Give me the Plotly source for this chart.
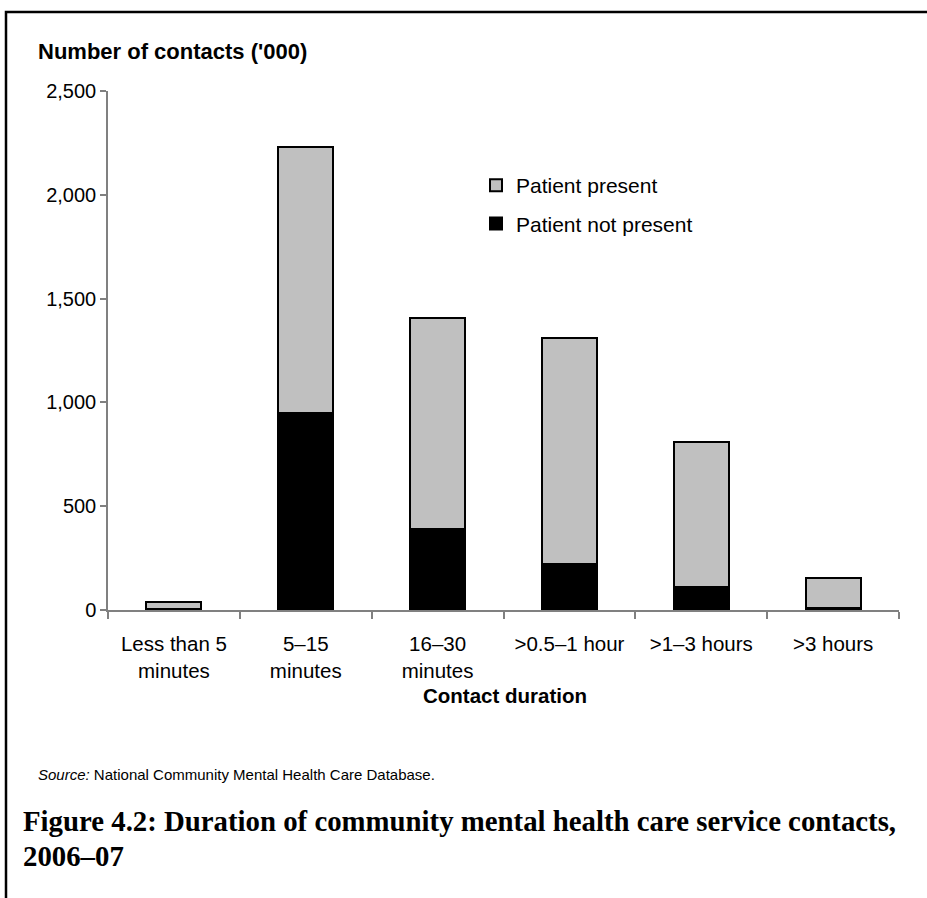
import plotly.graph_objects as go

# Contacts by duration, in thousands
categories = ["Less than 5<br>minutes", "5–15<br>minutes", "16–30<br>minutes",
              ">0.5–1 hour", ">1–3 hours", ">3 hours"]
patient_not_present = [5, 950, 390, 224, 109, 10]
patient_present = [33, 1281, 1017, 1088, 699, 145]
y_ticks = [0, 500, 1000, 1500, 2000, 2500]

W, H = 927, 898
L, R, T, B = 108, 28, 91, 288
plot_w = W - L - R
plot_h = H - T - B


def px(x):
    return (x - L) / plot_w


def py(y):
    return (H - B - y) / plot_h


SANS = "Liberation Sans, Arial, sans-serif"
SERIF = "Liberation Serif, Times New Roman, serif"
line = dict(color="black", width=2)

fig = go.Figure()
fig.add_bar(x=categories, y=patient_not_present, name="Patient not present",
            marker=dict(color="black", line=line), legendgroup="a", legendrank=2)
fig.add_bar(x=categories, y=patient_present, name="Patient present",
            marker=dict(color="#c0c0c0", line=line), legendgroup="b", legendrank=1)

fig.update_layout(
    width=W, height=H,
    margin=dict(l=L, r=R, t=T, b=B),
    barmode="stack", bargap=0.583,
    plot_bgcolor="white", paper_bgcolor="white",
    font=dict(family=SANS, size=21, color="black"),
    showlegend=True,
    legend=dict(x=px(476), y=py(165), xanchor="left", yanchor="top",
                traceorder="grouped", tracegroupgap=8,
                font=dict(size=21), bgcolor="rgba(0,0,0,0)"),
    xaxis=dict(showline=True, linecolor="#808080", linewidth=1.5,
               ticks="outside", tickson="boundaries", ticklen=7,
               tickcolor="#808080", tickwidth=1.5, ticklabelstandoff=15,
               tickfont=dict(size=20.5), showgrid=False),
    yaxis=dict(range=[0, 2500], tickvals=y_ticks, tickformat=",d",
               showline=True, linecolor="#808080", linewidth=1.5,
               ticks="outside", ticklen=6, tickcolor="#808080", tickwidth=1.5,
               tickfont=dict(size=20), showgrid=False, zeroline=False),
)

annotations = [
    dict(text="<b>Number of contacts ('000)</b>", x=px(36), y=py(52),
         xanchor="left", yanchor="middle", font=dict(size=22)),
    dict(text="<b>Contact duration</b>", x=px(505), y=py(695),
         xanchor="center", yanchor="middle", font=dict(size=20.5)),
    dict(text="<i>Source:</i> National Community Mental Health Care Database.",
         x=px(36), y=py(774), xanchor="left", yanchor="middle",
         font=dict(size=15, family=SANS)),
    dict(text="<b>Figure 4.2: Duration of community mental health care service contacts,</b>",
         x=px(21), y=py(821), xanchor="left", yanchor="middle",
         font=dict(size=28.8, family=SERIF)),
    dict(text="<b>2006–07</b>",
         x=px(21), y=py(856), xanchor="left", yanchor="middle",
         font=dict(size=28.8, family=SERIF)),
]
for a in annotations:
    a.update(xref="paper", yref="paper", showarrow=False)
fig.update_layout(annotations=annotations)

# Outer frame around the figure
fig.add_shape(type="rect", xref="paper", yref="paper",
              x0=px(6), x1=px(960), y0=py(960), y1=py(12),
              line=dict(color="black", width=2.5), layer="above")

fig.write_html("out.html")
